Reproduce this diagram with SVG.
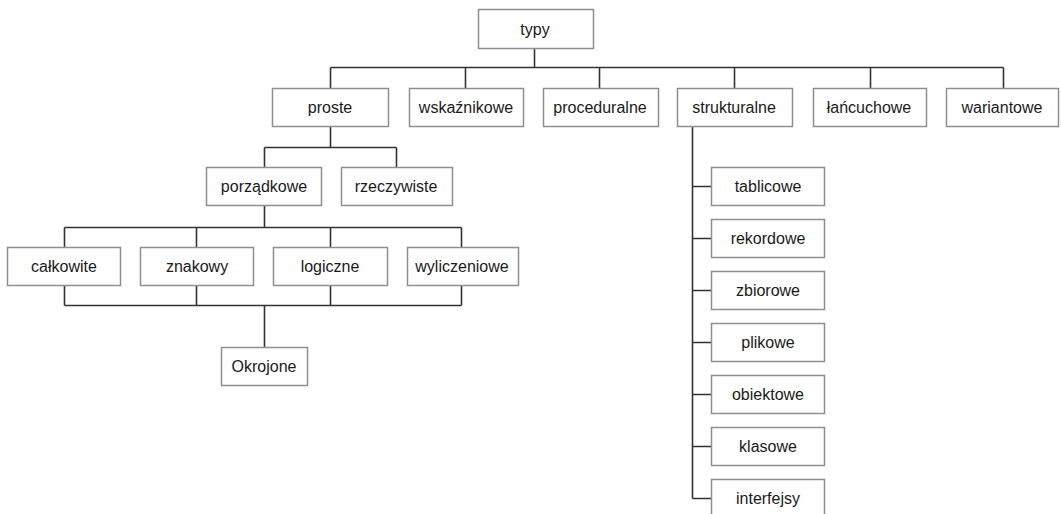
<svg xmlns="http://www.w3.org/2000/svg" width="1061" height="514" viewBox="0 0 1061 514">
<style>
.box{fill:#fff;stroke:#8f8f8f;stroke-width:1.5}
.lbl{font-family:"Liberation Sans",Arial,sans-serif;font-size:16px;fill:#1a1a1a;text-anchor:middle}
.con{fill:none;stroke:#333;stroke-width:1.6}
</style>
<rect width="1061" height="514" fill="#fff"/>
<g id="connectors" class="con">
<path d="M534.5 48V67.5M330.5 67.5H1003.5M330.5 67.5V88M465.5 67.5V88M599.5 67.5V88M734.5 67.5V88M870.5 67.5V88M1003.5 67.5V88"/>
<path d="M330.5 126V147.5M264.5 147.5H396.5M264.5 147.5V167M396.5 147.5V167"/>
<path d="M264.5 206V227.5M64.5 227.5H461.5M64.5 227.5V247M196.5 227.5V247M330.5 227.5V247M461.5 227.5V247"/>
<path d="M64.5 285V305.5M196.5 285V305.5M330.5 285V305.5M461.5 285V305.5M64.5 305.5H461.5M264.5 305.5V347"/>
<path d="M692.5 126V498.5M692.5 186.5H711M692.5 238.5H711M692.5 290.5H711M692.5 342.5H711M692.5 394.5H711M692.5 446.5H711M692.5 498.5H711"/>
</g>
<g id="typy"><rect class="box" x="478.5" y="9.5" width="115" height="39"/><text class="lbl" x="535" y="35">typy</text></g>
<g id="proste"><rect class="box" x="272.5" y="88.5" width="116" height="38"/><text class="lbl" x="330" y="113">proste</text></g>
<g id="wskaznikowe"><rect class="box" x="409.5" y="88.5" width="114" height="38"/><text class="lbl" x="466" y="113">wskaźnikowe</text></g>
<g id="proceduralne"><rect class="box" x="543.5" y="88.5" width="115" height="38"/><text class="lbl" x="600" y="113">proceduralne</text></g>
<g id="strukturalne"><rect class="box" x="677.5" y="88.5" width="115" height="38"/><text class="lbl" x="734" y="113">strukturalne</text></g>
<g id="lancuchowe"><rect class="box" x="813.5" y="88.5" width="113" height="38"/><text class="lbl" x="869" y="113">łańcuchowe</text></g>
<g id="wariantowe"><rect class="box" x="946.5" y="88.5" width="112" height="38"/><text class="lbl" x="1002" y="113">wariantowe</text></g>
<g id="porzadkowe"><rect class="box" x="206.5" y="167.5" width="115" height="38"/><text class="lbl" x="264" y="192">porządkowe</text></g>
<g id="rzeczywiste"><rect class="box" x="341.5" y="167.5" width="111" height="38"/><text class="lbl" x="396" y="192">rzeczywiste</text></g>
<g id="calkowite"><rect class="box" x="7.5" y="247.5" width="113" height="38"/><text class="lbl" x="64" y="272">całkowite</text></g>
<g id="znakowy"><rect class="box" x="140.5" y="247.5" width="113" height="38"/><text class="lbl" x="197" y="272">znakowy</text></g>
<g id="logiczne"><rect class="box" x="273.5" y="247.5" width="114" height="38"/><text class="lbl" x="330" y="272">logiczne</text></g>
<g id="wyliczeniowe"><rect class="box" x="407.5" y="247.5" width="111" height="38"/><text class="lbl" x="462" y="272">wyliczeniowe</text></g>
<g id="okrojone"><rect class="box" x="221.5" y="347.5" width="86" height="38"/><text class="lbl" x="264" y="372">Okrojone</text></g>
<g id="tablicowe"><rect class="box" x="711.5" y="167.5" width="113" height="38"/><text class="lbl" x="768" y="192">tablicowe</text></g>
<g id="rekordowe"><rect class="box" x="711.5" y="219.5" width="113" height="38"/><text class="lbl" x="768" y="244">rekordowe</text></g>
<g id="zbiorowe"><rect class="box" x="711.5" y="271.5" width="113" height="38"/><text class="lbl" x="768" y="296">zbiorowe</text></g>
<g id="plikowe"><rect class="box" x="711.5" y="323.5" width="113" height="38"/><text class="lbl" x="768" y="348">plikowe</text></g>
<g id="obiektowe"><rect class="box" x="711.5" y="375.5" width="113" height="38"/><text class="lbl" x="768" y="400">obiektowe</text></g>
<g id="klasowe"><rect class="box" x="711.5" y="427.5" width="113" height="38"/><text class="lbl" x="768" y="452">klasowe</text></g>
<g id="interfejsy"><rect class="box" x="711.5" y="479.5" width="113" height="38"/><text class="lbl" x="768" y="504">interfejsy</text></g>
</svg>
